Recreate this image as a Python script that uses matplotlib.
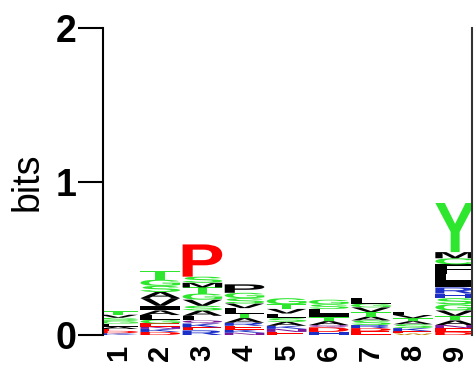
import matplotlib
matplotlib.use("Agg")
import matplotlib.pyplot as plt
from matplotlib.textpath import TextPath
from matplotlib.patches import PathPatch
from matplotlib.font_manager import FontProperties
from matplotlib.transforms import Affine2D

# positions 1..9, letters stacked bottom -> top with their heights in bits
positions = [1, 2, 3, 4, 5, 6, 7, 8, 9]
stack_letters = [
    "KDEALGSVT",
    "DKNEGLAIVASGT",
    "REKQLASVGTMSP",
    "NKERATLVSGP",
    "ENKASLVTG",
    "HDQATILSG",
    "EDRSATVGL",
    "WEKSATVL",
    "DENATVGSHRILFCMY",
]
stack_heights = [
    [0.012, 0.015, 0.012, 0.015, 0.020, 0.018, 0.020, 0.020, 0.025],
    [0.02, 0.02, 0.015, 0.02, 0.025, 0.03, 0.03, 0.03, 0.05, 0.04, 0.04, 0.04, 0.06],
    [0.03, 0.02, 0.025, 0.02, 0.03, 0.035, 0.03, 0.04, 0.04, 0.04, 0.03, 0.04, 0.21],
    [0.015, 0.02, 0.025, 0.02, 0.03, 0.03, 0.035, 0.03, 0.035, 0.035, 0.055],
    [0.02, 0.02, 0.02, 0.025, 0.025, 0.03, 0.03, 0.03, 0.04],
    [0.02, 0.03, 0.015, 0.025, 0.025, 0.025, 0.03, 0.03, 0.03],
    [0.025, 0.02, 0.02, 0.03, 0.025, 0.03, 0.03, 0.025, 0.035],
    [0.01, 0.015, 0.02, 0.025, 0.02, 0.02, 0.02, 0.02],
    [0.02, 0.025, 0.02, 0.03, 0.03, 0.035, 0.04, 0.04, 0.03, 0.04, 0.04, 0.05, 0.06,
     0.04, 0.04, 0.32],
]

green = "#2fe62f"
black = "#000000"
red = "#ff0000"
blue = "#1c2fc8"
purple = "#7a1a9a"
orange = "#c88a10"
letter_colors = {
    "G": green, "S": green, "T": green, "Y": green, "C": green,
    "N": purple, "Q": purple,
    "K": blue, "R": blue, "H": blue,
    "D": red, "E": red, "P": red,
    "A": black, "V": black, "L": black, "I": black, "M": black, "F": black,
    "W": orange,
}
# the P on top of column 4 is black
special_colors = {(4, 10): black}

font = FontProperties(family="Liberation Sans", weight="bold")

fig = plt.figure(figsize=(4.74, 3.69), dpi=100)
ax = fig.add_axes([103 / 474, 1 - 335 / 369, (472 - 103) / 474, (335 - 28) / 369])


def draw_letter(ax, letter, xc, y0, width, height, color):
    tp = TextPath((0, 0), letter, size=1, prop=font)
    ext = tp.get_extents()
    tr = (Affine2D()
          .translate(-ext.x0, -ext.y0)
          .scale(width / ext.width, height / ext.height)
          .translate(xc - width / 2, y0))
    ax.add_patch(PathPatch(tr.transform_path(tp), facecolor=color,
                           edgecolor="none", lw=0))


for pos, letters, heights in zip(positions, stack_letters, stack_heights):
    y = 0.0
    for k, (ch, h) in enumerate(zip(letters, heights)):
        col = special_colors.get((pos, k), letter_colors[ch])
        draw_letter(ax, ch, pos, y, 0.94, h, col)
        y += h

ax.set_xlim(0.64, 9.40)
ax.set_ylim(0, 2)

ax.spines["top"].set_visible(False)
ax.spines["bottom"].set_visible(False)
ax.spines["left"].set_linewidth(1.5)
ax.spines["right"].set_linewidth(1.5)
ax.spines["right"].set_color("#333333")

ax.set_yticks([0, 1, 2])
ax.set_yticklabels(["0", "1", "2"], fontsize=27, fontweight="bold",
                   family="Liberation Sans")
ax.tick_params(axis="y", length=18, width=1.5, pad=1)

ax.set_xticks(positions)
ax.set_xticklabels([str(p) for p in positions], rotation=90, fontsize=21,
                   fontweight="bold", family="Liberation Sans")
ax.tick_params(axis="x", length=0, pad=7)

ax.set_ylabel("bits", fontsize=27, family="Liberation Sans", labelpad=7)

fig.savefig("out.png", dpi=100)
